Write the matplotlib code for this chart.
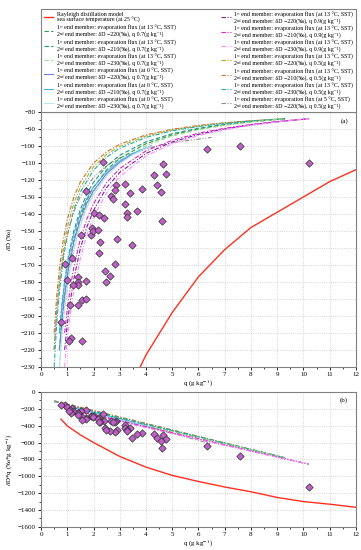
import numpy as np
import matplotlib
matplotlib.use("Agg")
import matplotlib.pyplot as plt
from matplotlib.ticker import MultipleLocator

plt.rcParams['font.family'] = ['Liberation Serif', 'DejaVu Serif']
plt.rcParams['mathtext.fontset'] = 'stix'

# Rayleigh distillation model (SST 25 C)
ray_q = [0.76, 1, 1.5, 2, 3, 4, 5, 6, 7, 8, 9, 10, 11, 12]
ray_d = [-425, -403, -340, -300, -255, -223, -198, -177, -161, -148, -139, -130, -121, -114]

# mixing curves: q (g/kg) and dD (permil)
q_05 = [0.5, 0.6, 0.7, 0.85, 1.0, 1.25, 1.5, 2, 2.5, 3, 4, 5, 6, 7, 8, 9.3]
d_13_220_05 = [-220.0, -196.0, -178.9, -160.8, -148.1, -133.8, -124.2, -112.2, -105.0, -100.2, -94.2, -90.6, -88.3, -86.5, -85.3, -84.0]
d_13_210_05 = [-210.0, -187.8, -172.0, -155.2, -143.4, -130.1, -121.2, -110.1, -103.5, -99.0, -93.5, -90.2, -87.9, -86.4, -85.2, -84.0]
d_13_230_05 = [-230.0, -204.3, -185.9, -166.5, -152.9, -137.4, -127.1, -114.3, -106.6, -101.4, -95.0, -91.1, -88.6, -86.7, -85.3, -84.0]

q_07 = [0.7, 0.8, 0.9, 1.05, 1.25, 1.5, 1.75, 2, 2.5, 3, 4, 5, 6, 7, 8, 9.3]
d_13_220_07 = [-220.0, -201.6, -187.3, -171.0, -155.3, -141.6, -131.8, -124.4, -114.1, -107.3, -98.7, -93.5, -90.1, -87.6, -85.8, -84.0]
d_13_210_07 = [-210.0, -193.0, -179.7, -164.6, -150.0, -137.3, -128.2, -121.4, -111.9, -105.5, -97.6, -92.8, -89.6, -87.4, -85.7, -84.0]
d_13_230_07 = [-230.0, -210.3, -194.9, -177.4, -160.5, -145.8, -135.3, -127.4, -116.3, -109.0, -99.8, -94.2, -90.5, -87.9, -85.9, -84.0]

q_09 = [0.9, 1.0, 1.1, 1.25, 1.5, 1.75, 2, 2.5, 3, 4, 5, 6, 7, 8, 9, 10.2]
d_13_220_09 = [-220.0, -205.1, -192.9, -178.2, -160.3, -147.6, -138.0, -124.5, -115.6, -104.4, -97.7, -93.2, -90.0, -87.6, -85.8, -84.0]
d_13_210_09 = [-210.0, -196.2, -184.9, -171.3, -154.7, -142.9, -134.0, -121.6, -113.3, -102.9, -96.7, -92.5, -89.6, -87.4, -85.6, -84.0]
d_13_230_09 = [-230.0, -214.0, -200.9, -185.2, -166.0, -152.2, -141.9, -127.5, -117.9, -105.9, -98.7, -93.9, -90.5, -87.9, -85.9, -84.0]

q_0c = [0.7, 0.8, 0.9, 1.05, 1.25, 1.5, 1.75, 2, 2.5, 3, 3.5, 4.2]
d_0_220_07 = [-220.0, -202.0, -188.0, -172.0, -156.6, -143.2, -133.6, -126.4, -116.3, -109.6, -104.8, -100.0]
d_0_210_07 = [-210.0, -193.5, -180.7, -166.0, -151.9, -139.6, -130.8, -124.2, -115.0, -108.8, -104.4, -100.0]
d_0_230_07 = [-230.0, -210.5, -195.3, -178.0, -161.4, -146.8, -136.4, -128.6, -117.7, -110.4, -105.2, -100.0]

q_5c = [0.5, 0.6, 0.7, 0.85, 1.0, 1.25, 1.5, 2, 2.5, 3, 4, 5, 6.5]
d_5_220_05 = [-220.0, -197.4, -181.3, -164.2, -152.3, -138.8, -129.7, -118.4, -111.7, -107.2, -101.5, -98.1, -95.0]

# observations
obs_q = [2.37, 1.71, 4.64, 4.76, 4.30, 4.41, 4.56, 3.85, 3.39, 3.20, 2.85, 2.82, 2.67, 2.75,
         3.21, 3.27, 3.27, 3.64, 2.03, 2.22, 2.39, 4.61, 1.51, 1.90, 1.95, 1.97, 2.18, 2.25,
         2.91, 3.45, 2.22, 0.93, 1.17, 2.82, 2.45, 2.63, 2.48, 1.40, 1.40, 1.40, 1.22, 0.98,
         1.71, 1.56, 1.71, 1.42, 1.10, 0.75, 1.15, 1.05, 1.55, 6.34, 7.58, 10.2]
obs_d = [-109.4, -126.5, -110.5, -116.8, -117.3, -123.0, -127.3, -125.5, -127.7, -122.6, -123.0, -126.0, -129.6, -131.5,
         -133.9, -139.7, -141.7, -138.2, -139.7, -140.5, -142.4, -144.0, -152.2, -152.2, -148.3, -150.0, -149.4, -156.6,
         -154.9, -158.4, -163.2, -169.7, -166.0, -169.7, -173.4, -176.7, -180.2, -176.9, -180.0, -182.0, -182.0, -179.0,
         -179.2, -190.7, -190.0, -193.6, -193.6, -203.7, -213.2, -214.6, -215.0, -101.6, -100.0, -110.0]

end1_13 = "1ˢᵗ end member: evaporation flux (at 13 °C, SST)\n"
end1_0 = "1ˢᵗ end member: evaporation flux (at 0 °C, SST)\n"
end1_5 = "1ˢᵗ end member: evaporation flux (at 5 °C, SST)\n"
end2 = "2ⁿᵈ end member: δD −%d(‰), q %s(g kg⁻¹)"

curves = [
    (q_05, d_13_220_05, '#b0b020', (0, (4, 1.5, 1, 1.5)), end1_13 + end2 % (220, '0.5')),
    (q_05, d_13_210_05, '#c8743a', (0, (4, 1.5, 1, 1.5)), end1_13 + end2 % (210, '0.5')),
    (q_05, d_13_230_05, '#20b0b0', (0, (4, 1.5, 1, 1.5)), end1_13 + end2 % (230, '0.5')),
    (q_5c, d_5_220_05, '#909090', (0, (4, 1.5, 1, 1.5, 1, 1.5)), end1_5 + end2 % (220, '0.5')),
    (q_07, d_13_220_07, '#30a040', (0, (4, 2)), end1_13 + end2 % (220, '0.7')),
    (q_07, d_13_210_07, '#209880', (0, (4, 2)), end1_13 + end2 % (210, '0.7')),
    (q_07, d_13_230_07, '#a8dca0', (0, (4, 2)), end1_13 + end2 % (230, '0.7')),
    (q_0c, d_0_220_07, '#7080e0', '-', end1_0 + end2 % (220, '0.7')),
    (q_0c, d_0_210_07, '#50b0e8', '-', end1_0 + end2 % (210, '0.7')),
    (q_0c, d_0_230_07, '#b8e4f0', '-', end1_0 + end2 % (230, '0.7')),
    (q_09, d_13_220_09, '#6a2a9a', (0, (4, 1.5, 1, 1.5)), end1_13 + end2 % (220, '0.9')),
    (q_09, d_13_210_09, '#e020c0', (0, (4, 1.5, 1, 1.5)), end1_13 + end2 % (210, '0.9')),
    (q_09, d_13_230_09, '#ff88ff', (0, (4, 1.5, 1, 1.5)), end1_13 + end2 % (230, '0.9')),
]

fig = plt.figure(figsize=(3.61, 5.5), dpi=100)
ax1 = fig.add_axes([0.1136, 0.333, 0.8725, 0.4635])
ax2 = fig.add_axes([0.1136, 0.042, 0.8725, 0.2455])

lines = {}
for ax, mult in [(ax1, False), (ax2, True)]:
    x = np.array(ray_q)
    y = np.array(ray_d) * x if mult else np.array(ray_d)
    h, = ax.plot(x, y, color='#ff3020', lw=1.0, zorder=3)
    lines['ray'] = h
    for i, (cq, cd, col, ls, lab) in enumerate(curves):
        x = np.array(cq)
        y = np.array(cd) * x if mult else np.array(cd)
        h, = ax.plot(x, y, color=col, ls=ls, lw=0.8, zorder=2)
        lines[i] = h
    x = np.array(obs_q)
    y = np.array(obs_d) * x if mult else np.array(obs_d)
    ax.scatter(x, y, marker='D', s=14, facecolor='#c060c8', edgecolor='#303030',
               linewidth=0.5, zorder=4)

for ax in (ax1, ax2):
    ax.set_xlim(0, 12)
    ax.xaxis.set_major_locator(MultipleLocator(1))
    ax.xaxis.set_minor_locator(MultipleLocator(0.5))
    ax.grid(True, which='major', color='#c8c8c8', ls=':', lw=0.6)
    ax.tick_params(labelsize=5, length=2.5, width=0.6, pad=1.5)
    ax.tick_params(which='minor', length=1.5, width=0.5)
    for s in ax.spines.values():
        s.set_color('#808080')
        s.set_linewidth(0.8)
    ax.set_xlabel('q (g kg$^{-1}$)', fontsize=5, labelpad=1)

ax1.set_ylim(-230, -80)
ax1.yaxis.set_major_locator(MultipleLocator(10))
ax1.yaxis.set_minor_locator(MultipleLocator(5))
ax1.set_ylabel('$\\delta$D (‰)', fontsize=5, labelpad=5)
ax1.text(0.975, 0.975, '(a)', transform=ax1.transAxes, ha='right', va='top', fontsize=5)

ax2.set_ylim(-1600, 0)
ax2.yaxis.set_major_locator(MultipleLocator(200))
ax2.yaxis.set_minor_locator(MultipleLocator(100))
ax2.set_ylabel('$\\delta$D*q (‰*g kg$^{-1}$)', fontsize=5, labelpad=2)
ax2.text(0.975, 0.96, '(b)', transform=ax2.transAxes, ha='right', va='top', fontsize=5)

# legend order as in the reference (column-wise)
order_left = [4, 5, 6, 7, 8, 9]
order_right = [10, 11, 12, 0, 1, 2, 3]
handles = [lines['ray']] + [lines[i] for i in order_left] + [lines[i] for i in order_right]
labels = ["Rayleigh distillation model\nsea surface temperature (at 25 °C)"] + \
         [curves[i][4] for i in order_left] + [curves[i][4] for i in order_right]
leg = fig.legend(handles, labels, ncol=2, loc='lower left',
                 bbox_to_anchor=(0.1136, 0.7964, 0.8725, 0.19), mode='expand',
                 borderaxespad=0, fontsize=4.3, handlelength=1.6, borderpad=0.45,
                 handletextpad=0.6, labelspacing=0.38, columnspacing=0.5,
                 fancybox=False, edgecolor='#808080', framealpha=1)
for t in leg.get_texts():
    t.set_linespacing(1.05)
leg.get_frame().set_linewidth(0.8)

fig.savefig('out.png', dpi=100)
